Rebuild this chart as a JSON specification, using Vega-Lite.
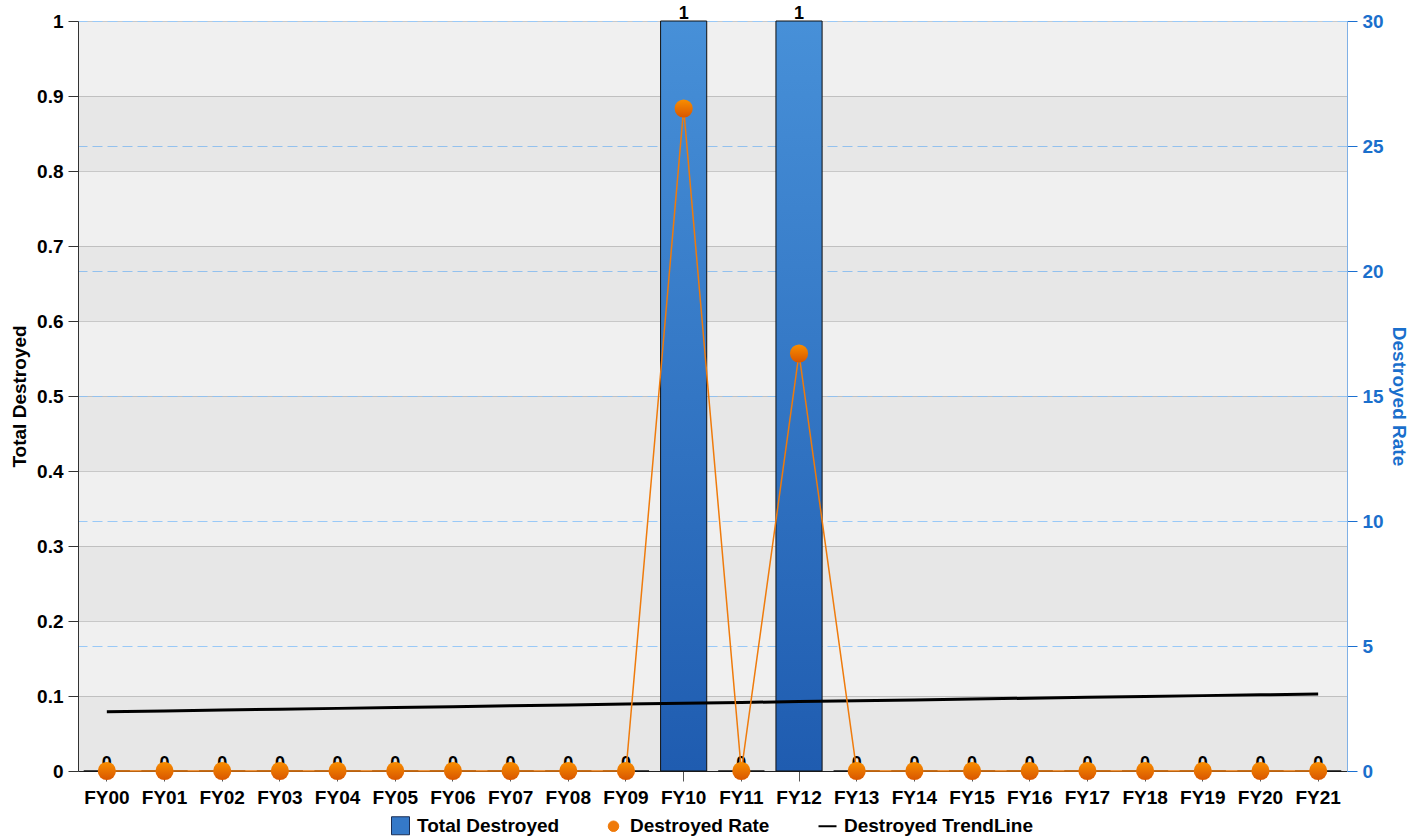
{
  "$schema": "https://vega.github.io/schema/vega-lite/v6.json",
  "width": 1269,
  "height": 750,
  "autosize": "none",
  "padding": {"left": 78, "top": 21, "right": 79, "bottom": 69},
  "background": "white",
  "view": {"fill": "#f0f0f0", "stroke": null},
  "config": {
    "view": {"fill": "#f0f0f0", "stroke": null},
    "font": "Liberation Sans",
    "axisLeft": {"gridColor": "#c8c8c8", "gridOpacity": 1, "gridWidth": 1},
    "axisRight": {"gridColor": "#99c9f7", "gridOpacity": 1, "gridDash": [10, 5], "gridWidth": 1}
  },
  "datasets": {
    "main": [
      {"fy": "FY00", "total": 0, "rate": 0, "trend": 0.0790},
      {"fy": "FY01", "total": 0, "rate": 0, "trend": 0.0801},
      {"fy": "FY02", "total": 0, "rate": 0, "trend": 0.0813},
      {"fy": "FY03", "total": 0, "rate": 0, "trend": 0.0824},
      {"fy": "FY04", "total": 0, "rate": 0, "trend": 0.0835},
      {"fy": "FY05", "total": 0, "rate": 0, "trend": 0.0847},
      {"fy": "FY06", "total": 0, "rate": 0, "trend": 0.0858},
      {"fy": "FY07", "total": 0, "rate": 0, "trend": 0.0869},
      {"fy": "FY08", "total": 0, "rate": 0, "trend": 0.0880},
      {"fy": "FY09", "total": 0, "rate": 0, "trend": 0.0892},
      {"fy": "FY10", "total": 1, "rate": 26.5, "trend": 0.0903},
      {"fy": "FY11", "total": 0, "rate": 0, "trend": 0.0914},
      {"fy": "FY12", "total": 1, "rate": 16.7, "trend": 0.0926},
      {"fy": "FY13", "total": 0, "rate": 0, "trend": 0.0937},
      {"fy": "FY14", "total": 0, "rate": 0, "trend": 0.0948},
      {"fy": "FY15", "total": 0, "rate": 0, "trend": 0.0959},
      {"fy": "FY16", "total": 0, "rate": 0, "trend": 0.0971},
      {"fy": "FY17", "total": 0, "rate": 0, "trend": 0.0982},
      {"fy": "FY18", "total": 0, "rate": 0, "trend": 0.0993},
      {"fy": "FY19", "total": 0, "rate": 0, "trend": 0.1005},
      {"fy": "FY20", "total": 0, "rate": 0, "trend": 0.1016},
      {"fy": "FY21", "total": 0, "rate": 0, "trend": 0.1027}
    ],
    "bands": [
      {"lo": 0, "hi": 0.1},
      {"lo": 0.2, "hi": 0.3},
      {"lo": 0.4, "hi": 0.5},
      {"lo": 0.6, "hi": 0.7},
      {"lo": 0.8, "hi": 0.9}
    ],
    "legend": [
      {"series": "Total Destroyed"},
      {"series": "Destroyed Rate"},
      {"series": "Destroyed TrendLine"}
    ]
  },
  "encoding": {
    "x": {
      "field": "fy",
      "type": "ordinal",
      "sort": null,
      "scale": {"paddingInner": 0.2, "paddingOuter": 0.1},
      "axis": {
        "title": null,
        "labelAngle": 0,
        "labelFont": "Liberation Sans",
        "labelFontSize": 19,
        "labelFontWeight": "bold",
        "labelColor": "#000000",
        "labelPadding": 7,
        "tickSize": 10,
        "tickColor": "#555555",
        "domainColor": "#222222",
        "grid": false
      }
    }
  },
  "layer": [
    {
      "layer": [
        {
          "data": {"name": "bands"},
          "mark": {"type": "rect", "fill": "#000000", "opacity": 0.037},
          "encoding": {
            "x": null,
            "y": {
              "field": "lo",
              "type": "quantitative",
              "title": "Total Destroyed",
              "scale": {"domain": [0, 1], "nice": false},
              "axis": {
                "orient": "left",
                "values": [0, 0.1, 0.2, 0.3, 0.4, 0.5, 0.6, 0.7, 0.8, 0.9, 1],
                "format": "~g",
                "grid": true,
                "domainColor": "#333333",
                "tickColor": "#333333",
                "tickSize": 10,
                "labelPadding": 5,
                "labelFont": "Liberation Sans",
                "labelFontSize": 19,
                "labelFontWeight": "bold",
                "labelColor": "#000000",
                "titleFont": "Liberation Sans",
                "titleFontSize": 19,
                "titleFontWeight": "bold",
                "titleColor": "#000000",
                "titlePadding": 7
              }
            },
            "y2": {"field": "hi"}
          }
        },
        {
          "data": {"name": "main"},
          "mark": {
            "type": "bar",
            "stroke": "#111111",
            "strokeWidth": 1,
            "fill": {
              "gradient": "linear",
              "x1": 0, "y1": 0, "x2": 0, "y2": 1,
              "stops": [
                {"offset": 0, "color": "#4790d8"},
                {"offset": 1, "color": "#1f5cb0"}
              ]
            }
          },
          "encoding": {
            "y": {"field": "total", "type": "quantitative", "title": "Total Destroyed"}
          }
        },
        {
          "data": {"name": "main"},
          "mark": {"type": "line", "color": "#000000", "strokeWidth": 3},
          "encoding": {
            "y": {"field": "trend", "type": "quantitative", "title": "Total Destroyed"}
          }
        },
        {
          "data": {"name": "main"},
          "mark": {
            "type": "text",
            "baseline": "alphabetic",
            "dy": -2,
            "fontSize": 18,
            "fontWeight": "bold",
            "font": "Liberation Sans",
            "color": "#000000"
          },
          "encoding": {
            "y": {"field": "total", "type": "quantitative", "title": "Total Destroyed"},
            "text": {"field": "total", "type": "quantitative"}
          }
        }
      ]
    },
    {
      "layer": [
        {
          "data": {"name": "main"},
          "mark": {"type": "line", "color": "#ef7b0c", "strokeWidth": 1.5},
          "encoding": {
            "y": {
              "field": "rate",
              "type": "quantitative",
              "title": "Destroyed Rate",
              "scale": {"domain": [0, 30], "nice": false},
              "axis": {
                "orient": "right",
                "values": [0, 5, 10, 15, 20, 25, 30],
                "grid": true,
                "domainColor": "#7fb0e6",
                "tickColor": "#1a6fd0",
                "tickSize": 10,
                "labelPadding": 5,
                "labelFont": "Liberation Sans",
                "labelFontSize": 19,
                "labelFontWeight": "bold",
                "labelColor": "#1a6fcc",
                "titleFont": "Liberation Sans",
                "titleFontSize": 19,
                "titleFontWeight": "bold",
                "titleColor": "#1a6fcc",
                "titleAngle": 90,
                "titlePadding": 5
              }
            }
          }
        },
        {
          "data": {"name": "main"},
          "mark": {
            "type": "point",
            "shape": "circle",
            "filled": true,
            "size": 330,
            "opacity": 1,
            "fill": {
              "gradient": "linear",
              "x1": 0, "y1": 0, "x2": 0, "y2": 1,
              "stops": [
                {"offset": 0, "color": "#f98e00"},
                {"offset": 1, "color": "#d85600"}
              ]
            }
          },
          "encoding": {
            "y": {"field": "rate", "type": "quantitative", "title": "Destroyed Rate"}
          }
        },
        {
          "data": {"name": "legend"},
          "mark": {"type": "point", "filled": true, "opacity": 0},
          "encoding": {
            "x": null,
            "color": {
              "field": "series",
              "type": "nominal",
              "scale": {
                "domain": ["Total Destroyed", "Destroyed Rate", "Destroyed TrendLine"],
                "range": ["#3579c8", "#ef7a0a", "#000000"]
              },
              "legend": {
                "orient": "none",
                "legendX": 313,
                "legendY": 795,
                "direction": "horizontal",
                "title": null,
                "labelFont": "Liberation Sans",
                "labelFontSize": 19,
                "labelFontWeight": "bold",
                "labelColor": "#000000",
                "labelLimit": 400,
                "labelOffset": 7,
                "symbolSize": 324,
                "symbolOpacity": 1,
                "columnPadding": 44,
                "encode": {
                  "symbols": {
                    "update": {
                      "shape": {"signal": "datum.value === 'Total Destroyed' ? 'square' : (datum.value === 'Destroyed Rate' ? 'circle' : 'stroke')"},
                      "fill": {"signal": "datum.value === 'Total Destroyed' ? '#3579c8' : (datum.value === 'Destroyed Rate' ? '#ef7a0a' : 'transparent')"},
                      "stroke": {"signal": "datum.value === 'Total Destroyed' ? '#1b2f55' : (datum.value === 'Destroyed Rate' ? '#ef7a0a' : '#000000')"},
                      "strokeWidth": {"signal": "datum.value === 'Destroyed TrendLine' ? 2 : 1"},
                      "size": {"signal": "datum.value === 'Destroyed Rate' ? 110 : 324"},
                      "opacity": {"value": 1}
                    }
                  }
                }
              }
            }
          }
        }
      ]
    }
  ],
  "resolve": {"scale": {"y": "independent"}}
}
